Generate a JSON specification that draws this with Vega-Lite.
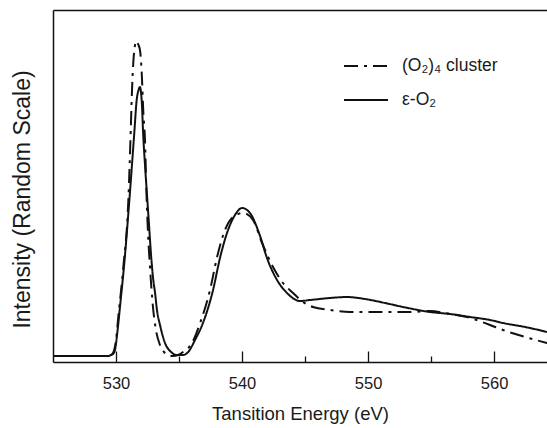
{
  "$schema": "https://vega.github.io/schema/vega-lite/v6.json",
  "width": 494,
  "height": 352,
  "autosize": {"type": "none"},
  "padding": {"left": 53, "top": 10, "right": 0, "bottom": 66},
  "background": "white",
  "config": {
    "view": {"stroke": null},
    "font": "Liberation Sans",
    "axis": {"grid": false, "domainColor": "#111111", "domainWidth": 1.5, "tickColor": "#111111", "tickWidth": 1.3, "labelColor": "#1a1a1a", "titleColor": "#1a1a1a", "titleFontWeight": "normal", "gridColor": "#111111", "gridOpacity": 1}
  },
  "data": {
    "values": [
      {"energy": 525.0, "intensity": 6, "series": "ε-O₂"},
      {"energy": 528.73, "intensity": 6, "series": "ε-O₂"},
      {"energy": 529.37, "intensity": 6, "series": "ε-O₂"},
      {"energy": 529.60, "intensity": 7, "series": "ε-O₂"},
      {"energy": 529.76, "intensity": 8, "series": "ε-O₂"},
      {"energy": 529.92, "intensity": 12, "series": "ε-O₂"},
      {"energy": 530.10, "intensity": 29, "series": "ε-O₂"},
      {"energy": 530.37, "intensity": 62, "series": "ε-O₂"},
      {"energy": 530.63, "intensity": 95, "series": "ε-O₂"},
      {"energy": 531.06, "intensity": 162, "series": "ε-O₂"},
      {"energy": 531.45, "intensity": 229, "series": "ε-O₂"},
      {"energy": 531.64, "intensity": 262, "series": "ε-O₂"},
      {"energy": 531.79, "intensity": 272, "series": "ε-O₂"},
      {"energy": 531.90, "intensity": 275, "series": "ε-O₂"},
      {"energy": 531.98, "intensity": 270, "series": "ε-O₂"},
      {"energy": 532.06, "intensity": 257, "series": "ε-O₂"},
      {"energy": 532.14, "intensity": 232, "series": "ε-O₂"},
      {"energy": 532.30, "intensity": 197, "series": "ε-O₂"},
      {"energy": 532.46, "intensity": 167, "series": "ε-O₂"},
      {"energy": 532.62, "intensity": 137, "series": "ε-O₂"},
      {"energy": 532.78, "intensity": 107, "series": "ε-O₂"},
      {"energy": 532.94, "intensity": 84, "series": "ε-O₂"},
      {"energy": 533.10, "intensity": 69, "series": "ε-O₂"},
      {"energy": 533.25, "intensity": 52, "series": "ε-O₂"},
      {"energy": 533.49, "intensity": 37, "series": "ε-O₂"},
      {"energy": 533.89, "intensity": 19, "series": "ε-O₂"},
      {"energy": 534.37, "intensity": 10, "series": "ε-O₂"},
      {"energy": 534.84, "intensity": 7, "series": "ε-O₂"},
      {"energy": 535.32, "intensity": 7, "series": "ε-O₂"},
      {"energy": 535.79, "intensity": 11, "series": "ε-O₂"},
      {"energy": 536.27, "intensity": 22, "series": "ε-O₂"},
      {"energy": 536.90, "intensity": 39, "series": "ε-O₂"},
      {"energy": 537.70, "intensity": 72, "series": "ε-O₂"},
      {"energy": 538.25, "intensity": 104, "series": "ε-O₂"},
      {"energy": 538.89, "intensity": 132, "series": "ε-O₂"},
      {"energy": 539.44, "intensity": 147, "series": "ε-O₂"},
      {"energy": 540.0, "intensity": 154, "series": "ε-O₂"},
      {"energy": 540.63, "intensity": 149, "series": "ε-O₂"},
      {"energy": 541.43, "intensity": 126, "series": "ε-O₂"},
      {"energy": 541.98, "intensity": 104, "series": "ε-O₂"},
      {"energy": 542.78, "intensity": 82, "series": "ε-O₂"},
      {"energy": 543.57, "intensity": 69, "series": "ε-O₂"},
      {"energy": 544.60, "intensity": 61, "series": "ε-O₂"},
      {"energy": 545.40, "intensity": 62, "series": "ε-O₂"},
      {"energy": 546.98, "intensity": 64, "series": "ε-O₂"},
      {"energy": 548.33, "intensity": 65, "series": "ε-O₂"},
      {"energy": 549.76, "intensity": 63, "series": "ε-O₂"},
      {"energy": 551.35, "intensity": 59, "series": "ε-O₂"},
      {"energy": 552.78, "intensity": 55, "series": "ε-O₂"},
      {"energy": 554.92, "intensity": 50, "series": "ε-O₂"},
      {"energy": 556.51, "intensity": 48, "series": "ε-O₂"},
      {"energy": 558.10, "intensity": 45, "series": "ε-O₂"},
      {"energy": 559.68, "intensity": 42, "series": "ε-O₂"},
      {"energy": 560.71, "intensity": 39, "series": "ε-O₂"},
      {"energy": 562.46, "intensity": 35, "series": "ε-O₂"},
      {"energy": 564.21, "intensity": 30, "series": "ε-O₂"},
      {"energy": 525.0, "intensity": 6, "series": "(O₂)₄ cluster"},
      {"energy": 528.73, "intensity": 6, "series": "(O₂)₄ cluster"},
      {"energy": 529.37, "intensity": 6, "series": "(O₂)₄ cluster"},
      {"energy": 529.60, "intensity": 7, "series": "(O₂)₄ cluster"},
      {"energy": 529.76, "intensity": 9, "series": "(O₂)₄ cluster"},
      {"energy": 530.0, "intensity": 22, "series": "(O₂)₄ cluster"},
      {"energy": 530.18, "intensity": 45, "series": "(O₂)₄ cluster"},
      {"energy": 530.58, "intensity": 95, "series": "(O₂)₄ cluster"},
      {"energy": 530.98, "intensity": 162, "series": "(O₂)₄ cluster"},
      {"energy": 531.17, "intensity": 232, "series": "(O₂)₄ cluster"},
      {"energy": 531.25, "intensity": 265, "series": "(O₂)₄ cluster"},
      {"energy": 531.37, "intensity": 299, "series": "(O₂)₄ cluster"},
      {"energy": 531.51, "intensity": 317, "series": "(O₂)₄ cluster"},
      {"energy": 531.63, "intensity": 321, "series": "(O₂)₄ cluster"},
      {"energy": 531.75, "intensity": 318, "series": "(O₂)₄ cluster"},
      {"energy": 531.90, "intensity": 312, "series": "(O₂)₄ cluster"},
      {"energy": 532.04, "intensity": 289, "series": "(O₂)₄ cluster"},
      {"energy": 532.17, "intensity": 249, "series": "(O₂)₄ cluster"},
      {"energy": 532.30, "intensity": 222, "series": "(O₂)₄ cluster"},
      {"energy": 532.42, "intensity": 167, "series": "(O₂)₄ cluster"},
      {"energy": 532.54, "intensity": 129, "series": "(O₂)₄ cluster"},
      {"energy": 532.70, "intensity": 94, "series": "(O₂)₄ cluster"},
      {"energy": 532.94, "intensity": 54, "series": "(O₂)₄ cluster"},
      {"energy": 533.17, "intensity": 32, "series": "(O₂)₄ cluster"},
      {"energy": 533.49, "intensity": 17, "series": "(O₂)₄ cluster"},
      {"energy": 533.81, "intensity": 10, "series": "(O₂)₄ cluster"},
      {"energy": 534.13, "intensity": 7, "series": "(O₂)₄ cluster"},
      {"energy": 534.52, "intensity": 6, "series": "(O₂)₄ cluster"},
      {"energy": 534.92, "intensity": 7, "series": "(O₂)₄ cluster"},
      {"energy": 535.32, "intensity": 10, "series": "(O₂)₄ cluster"},
      {"energy": 536.03, "intensity": 19, "series": "(O₂)₄ cluster"},
      {"energy": 536.67, "intensity": 39, "series": "(O₂)₄ cluster"},
      {"energy": 537.46, "intensity": 72, "series": "(O₂)₄ cluster"},
      {"energy": 538.02, "intensity": 105, "series": "(O₂)₄ cluster"},
      {"energy": 538.65, "intensity": 132, "series": "(O₂)₄ cluster"},
      {"energy": 539.29, "intensity": 145, "series": "(O₂)₄ cluster"},
      {"energy": 540.08, "intensity": 149, "series": "(O₂)₄ cluster"},
      {"energy": 540.87, "intensity": 142, "series": "(O₂)₄ cluster"},
      {"energy": 541.59, "intensity": 119, "series": "(O₂)₄ cluster"},
      {"energy": 542.46, "intensity": 95, "series": "(O₂)₄ cluster"},
      {"energy": 543.25, "intensity": 79, "series": "(O₂)₄ cluster"},
      {"energy": 544.05, "intensity": 69, "series": "(O₂)₄ cluster"},
      {"energy": 544.84, "intensity": 60, "series": "(O₂)₄ cluster"},
      {"energy": 545.63, "intensity": 55, "series": "(O₂)₄ cluster"},
      {"energy": 546.98, "intensity": 52, "series": "(O₂)₄ cluster"},
      {"energy": 548.57, "intensity": 50, "series": "(O₂)₄ cluster"},
      {"energy": 551.51, "intensity": 50, "series": "(O₂)₄ cluster"},
      {"energy": 553.33, "intensity": 50, "series": "(O₂)₄ cluster"},
      {"energy": 554.92, "intensity": 51, "series": "(O₂)₄ cluster"},
      {"energy": 556.51, "intensity": 48, "series": "(O₂)₄ cluster"},
      {"energy": 558.10, "intensity": 44, "series": "(O₂)₄ cluster"},
      {"energy": 559.68, "intensity": 37, "series": "(O₂)₄ cluster"},
      {"energy": 560.71, "intensity": 32, "series": "(O₂)₄ cluster"},
      {"energy": 562.46, "intensity": 25, "series": "(O₂)₄ cluster"},
      {"energy": 564.21, "intensity": 19, "series": "(O₂)₄ cluster"}
    ]
  },
  "mark": {"type": "line", "interpolate": "monotone", "strokeWidth": 2, "color": "#111111", "clip": true},
  "encoding": {
    "x": {
      "field": "energy", "type": "quantitative",
      "scale": {"domain": [525, 564.2], "nice": false, "zero": false},
      "axis": {
        "orient": "bottom",
        "values": [530, 535, 540, 545, 550, 555, 560],
        "labelExpr": "datum.value % 10 == 0 ? datum.label : ''",
        "ticks": true,
        "tickSize": -11,
        "tickDash": {"condition": {"test": "datum.value % 10 != 0", "value": [6, 20]}, "value": [20, 0]},
        "labelPadding": 32,
        "labelFontSize": 16.5,
        "labelBaseline": "middle",
        "title": "Tansition Energy (eV)",
        "titleFontSize": 18.5,
        "titlePadding": 13
      }
    },
    "y": {
      "field": "intensity", "type": "quantitative",
      "scale": {"domain": [0, 352], "nice": false},
      "axis": {"orient": "left", "ticks": false, "labels": false, "grid": true, "gridWidth": 1.5, "values": [352], "title": "Intensity (Random Scale)", "titleFontSize": 23, "titleX": -31, "titleY": 189, "titleBaseline": "middle", "titleAlign": "center", "titleAngle": 270}
    },
    "strokeDash": {
      "field": "series", "type": "nominal",
      "scale": {"domain": ["(O₂)₄ cluster", "ε-O₂"], "range": [[14, 6, 3, 6], [1, 0]]},
      "legend": {
        "title": null, "orient": "none", "legendX": 301, "legendY": 44,
        "symbolType": "M-2,0H2", "symbolSize": 484, "symbolStrokeWidth": 2, "symbolStrokeColor": "#111111",
        "labelFontSize": 17.5, "labelColor": "#1a1a1a", "labelOffset": 24, "rowPadding": 13, "padding": 0
      }
    }
  }
}
